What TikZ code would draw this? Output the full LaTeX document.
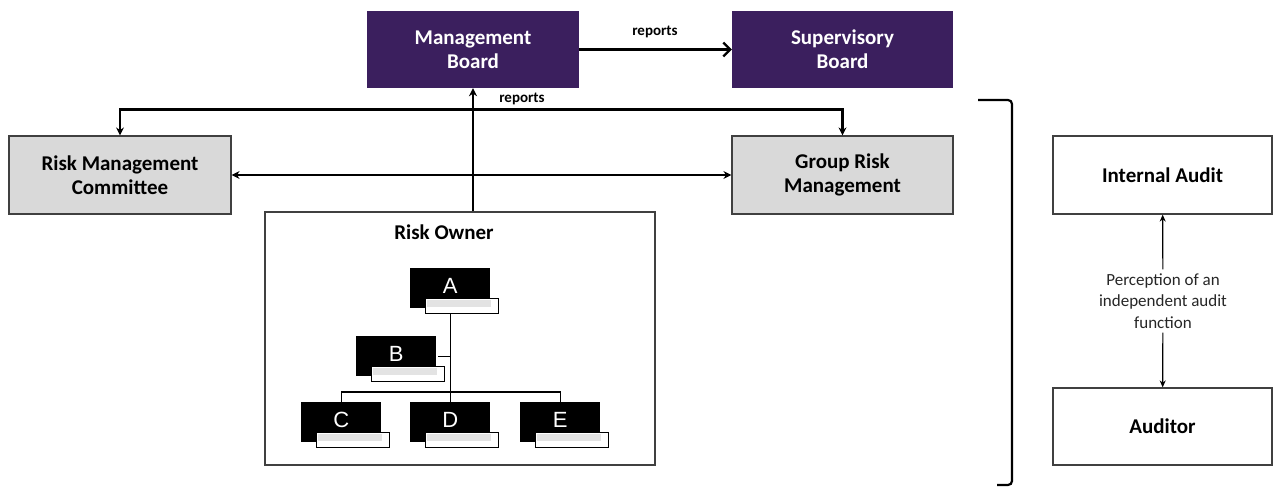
\documentclass[tikz,border=0pt]{standalone}
\usepackage{fontspec}
\setmainfont{Carlito}
\newfontfamily\letterfont{Liberation Sans}
\usetikzlibrary{arrows.meta}
\definecolor{boardpurple}{HTML}{3B1F5E}
\definecolor{riskgray}{HTML}{D9D9D9}
\definecolor{bargray}{HTML}{E3E3E3}
\begin{document}
\begin{tikzpicture}[x=1pt,y=-1pt,
  board/.style={fill=boardpurple,text=white,font=\fontsize{21}{24}\selectfont\bfseries,align=center,inner sep=0pt},
  graybox/.style={draw=black!75,line width=1.2pt,fill=riskgray,font=\fontsize{21}{24}\selectfont\bfseries,align=center,inner sep=0pt},
  whitebox/.style={draw=black!75,line width=1.2pt,fill=white,font=\fontsize{21}{24}\selectfont\bfseries,align=center,inner sep=0pt},
  conn/.style={line width=2.2pt,-{Stealth[length=8pt,width=8pt]}},
  dconn/.style={line width=2.2pt,{Stealth[length=8pt,width=8pt]}-{Stealth[length=8pt,width=8pt]}},
  thinarrow/.style={line width=1.2pt,-{Stealth[length=7pt,width=6pt]}},
  lbl/.style={font=\fontsize{15}{17}\selectfont\bfseries,inner sep=0pt},
  unit/.style={fill=black,text=white,minimum width=80pt,minimum height=40pt,inner sep=0pt,font=\letterfont\fontsize{22}{24}\selectfont},
  unitbar/.style={draw=black,line width=1pt,fill=white,minimum width=73pt,minimum height=15pt,inner sep=0pt},
  orgline/.style={line width=1.4pt}
]
\useasboundingbox (0,0) rectangle (1273,487);

% boards
\node[board,minimum width=212pt,minimum height=77pt] (MB) at (473,49.5) {Management\\Board};
\node[board,minimum width=221pt,minimum height=77pt] (SB) at (842.5,49.5) {Supervisory\\Board};
\node[graybox,minimum width=222pt,minimum height=78pt] (RMC) at (120,175) {Risk Management\\Committee};
\node[graybox,minimum width=221pt,minimum height=78pt] (GRM) at (842.5,175) {Group Risk\\Management};
\node[whitebox,minimum width=390pt,minimum height=253pt] (RO) at (460,338.5) {};
\node[inner sep=0pt,font=\fontsize{21}{24}\selectfont\bfseries] (ROt) at (444,232) {Risk Owner};
\node[whitebox,minimum width=219pt,minimum height=78pt] (IA) at (1162.5,175) {Internal Audit};
\node[whitebox,minimum width=219pt,minimum height=77pt] (AU) at (1162.5,426.5) {Auditor};

% connectors
\draw[line width=2.2pt,-{Straight Barb[length=7pt,width=14pt,line width=2.2pt]}] (MB) -- (SB);
\node[lbl] (rep1) at (655,32) {reports};
\draw[conn] (RO.north -| MB.south) -- (MB.south);
\node[lbl] (rep2) at (522,99) {reports};
\draw[dconn] (RMC.north) -- ++(0,-26) -| (GRM.north);
\draw[dconn] (RMC) -- (GRM);

% org chart
\newcommand{\orgunit}[4]{%
  \node[unit,anchor=north west] (#1) at (#3,#4) {\raisebox{5pt}{#2}};
  \node[unitbar,anchor=north west] (#1bar) at (#3+15,#4+30) {};
  \fill[bargray] ([shift={(1.5pt,-1.5pt)}]#1bar.north west) rectangle ([shift={(-8pt,-9pt)}]#1bar.north east);
}
\orgunit{A}{A}{410}{268}
\orgunit{B}{B}{356}{336}
\orgunit{C}{C}{301}{402}
\orgunit{D}{D}{410}{402}
\orgunit{E}{E}{520}{402}
\draw[orgline] (A.south |- Abar.south) -- (D.north);
\draw[orgline] (C.north) -- ++(0,-10) -| (E.north);
\draw[orgline] ([xshift=2pt]B.east) -- (B.east -| A.south);

% bracket
\coordinate (brA) at (978,100);
\coordinate (brB) at (1012,100);
\coordinate (brC) at (1012,485);
\coordinate (brD) at (997,485);
\draw[line width=2.2pt,rounded corners=4pt] (brA) -- (brB) -- (brC) -- (brD);

% audit
\node[font=\fontsize{17}{21.5}\selectfont,align=center,inner sep=4pt,text=black!85] (perc) at (1163,301) {Perception of an\\independent audit\\function};
\draw[thinarrow] (perc) -- (IA);
\draw[thinarrow] (perc) -- (AU);
\end{tikzpicture}
\end{document}
